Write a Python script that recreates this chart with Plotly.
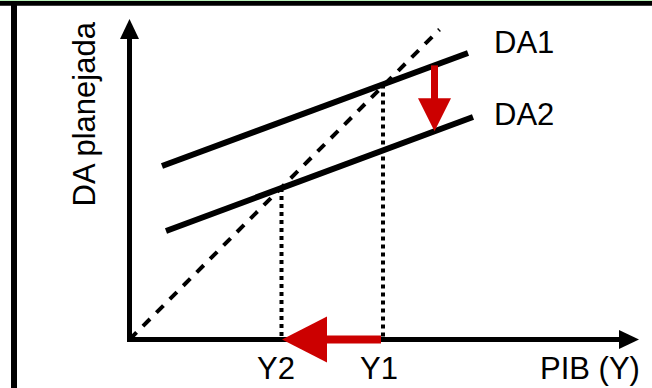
import numpy as np
import plotly.graph_objects as go

# all values are in screen units measured from the axis corner
da1_x = [32.5, 338.5]
da1_y = [173.5, 286.5]
da2_x = [36.5, 343.5]
da2_y = [108.5, 222.5]
line45_x = [0, 310]
line45_y = [0, 310]

# equilibrium output, before and after the shift
y1 = 253.5
y2 = 152.0
shift_at = 305.0   # x where the downward DA arrow sits

x_axis_end = 509.5
y_axis_top = 320.5

RED = "#cc0000"
FONT = dict(family="Liberation Sans, Arial, sans-serif", size=31, color="black")

fig = go.Figure()


def seg(x, y, color="black", width=6, dash="solid"):
    fig.add_trace(go.Scatter(x=x, y=y, mode="lines", hoverinfo="skip",
                             line=dict(color=color, width=width, dash=dash)))


def head(tip, d, length, half, color):
    # filled triangle with its point at tip, pointing along d
    tip = np.array(tip, float)
    d = np.array(d, float)
    p = np.array([-d[1], d[0]])
    base = tip - d * length
    pts = [tip, base + p * half, base - p * half, tip]
    fig.add_trace(go.Scatter(x=[q[0] for q in pts], y=[q[1] for q in pts],
                             mode="lines", fill="toself", fillcolor=color,
                             line=dict(width=0, color=color), hoverinfo="skip"))


# dotted guides from each equilibrium down to the axis
seg([y1, y1], [np.interp(y1, da1_x, da1_y), 0], width=4, dash="4px,4px")
seg([y2, y2], [np.interp(y2, da2_x, da2_y), 0], width=4, dash="4px,4px")

# 45 degree line
seg(line45_x, line45_y, width=4, dash="10px,9px")

# aggregate demand lines
seg(da1_x, da1_y, width=6)
seg(da2_x, da2_y, width=6)

# axes
seg([0, 0, x_axis_end - 20], [y_axis_top - 19, 0, 0], width=5)
head((0, y_axis_top), (0, 1), 20, 9.5, "black")
head((x_axis_end, 0), (1, 0), 20, 9.5, "black")

# shift of DA
top = np.interp(shift_at, da1_x, da1_y)
bot = np.interp(shift_at, da2_x, da2_y)
seg([shift_at, shift_at], [top, bot + 32], color=RED, width=7)
head((shift_at, bot), (0, -1), 33, 16.5, RED)

# fall in output
seg([y1 - 2, y2 + 44], [0, 0], color=RED, width=8)
head((y2 + 0.5, 0), (-1, 0), 45, 23, RED)

ann = [
    dict(text="DA1", x=da1_x[-1], y=da1_y[-1], xshift=56, yshift=10.5),
    dict(text="DA2", x=da2_x[-1], y=da2_y[-1], xshift=51, yshift=3),
    dict(text="Y1", x=y1, y=0, xshift=-4, yshift=-28.5),
    dict(text="Y2", x=y2, y=0, xshift=-5.5, yshift=-28.5),
    dict(text="PIB (Y)", x=x_axis_end, y=0, xshift=-49.5, yshift=-28.5),
    dict(text="DA planejada", x=0, y=y_axis_top, xshift=-46, yshift=-95, textangle=-90),
]
for a in ann:
    fig.add_annotation(showarrow=False, xref="x", yref="y", xanchor="center",
                       yanchor="middle", font=FONT, **a)

# frame edges visible in the crop
fig.add_shape(type="line", xref="paper", yref="paper", x0=14 / 652, x1=14 / 652,
              y0=0, y1=1, line=dict(color="black", width=6))
fig.add_shape(type="line", xref="paper", yref="paper", x0=0, x1=1,
              y0=1 - 3.3 / 388, y1=1 - 3.3 / 388, line=dict(color="black", width=5))
fig.add_shape(type="line", xref="paper", yref="paper", x0=0, x1=1,
              y0=1 - 0.5 / 388, y1=1 - 0.5 / 388, line=dict(color="#b8f0b8", width=1))

fig.update_layout(
    width=652, height=388, autosize=False,
    margin=dict(l=0, r=0, t=0, b=0),
    paper_bgcolor="white", plot_bgcolor="white",
    showlegend=False,
    xaxis=dict(range=[-129.5, 522.5], visible=False, fixedrange=True),
    yaxis=dict(range=[-48.5, 339.5], visible=False, fixedrange=True),
)

# the page's default body margin would push the figure off by 8px
fig.write_html("out.html", config={"displayModeBar": False},
               post_script="document.body.style.margin='0';document.body.style.overflow='hidden';")
